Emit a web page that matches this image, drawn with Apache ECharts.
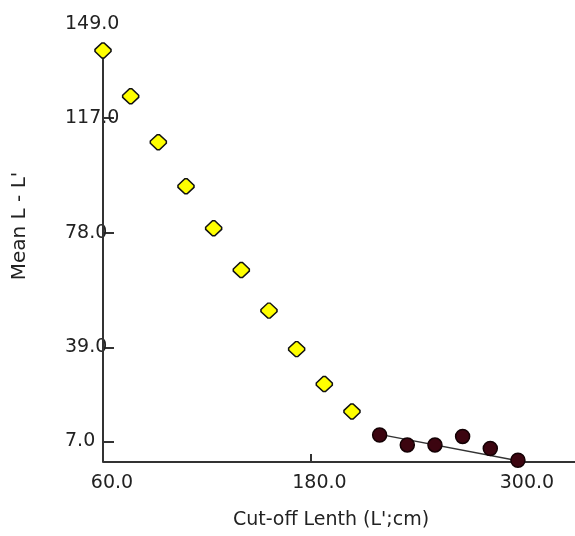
<!DOCTYPE html>
<html>
<head>
<meta charset="utf-8">
<script src="https://cdn.jsdelivr.net/npm/echarts@6/dist/echarts.min.js"></script>
<style>
  html, body { margin: 0; padding: 0; background: #fff; }
  #chart { width: 575px; height: 536px; }
</style>
</head>
<body>
<div id="chart"></div>
<script>
// values
var yellowX = [60, 76, 92, 108, 124, 140, 156, 172, 188, 204];
var yellowY = [140.0, 124.4, 108.8, 93.8, 79.5, 65.3, 51.5, 38.4, 26.5, 17.2];
var darkX = [220, 236, 252, 268, 284, 300];
var darkY = [9.2, 5.8, 5.8, 8.7, 4.6, 0.6];
// fitted line through the dark points (end points)
var fitX = [220, 300];
var fitY = [9.4, 0.4];
var yTicks = [7, 39, 78, 117];
var yLabels = [7, 39, 78, 117, 149];
var xTicks = [180];
var xLabels = [60, 180, 300];

function pairs(xs, ys) {
    var out = [];
    for (var i = 0; i < xs.length; i++) out.push([xs[i], ys[i]]);
    return out;
}

var font = 'DejaVu Sans';
var ink = '#222';
var axisInk = '#333';

var myChart = echarts.init(document.getElementById('chart'));
var option = {
    animation: false,
    grid: { left: 103, right: 0, top: 24, bottom: 74, outerBoundsMode: 'none' },
    xAxis: {
        type: 'value',
        min: 60,
        max: 333,
        name: "Cut-off Lenth (L';cm)",
        nameLocation: 'middle',
        nameGap: 49,
        nameTextStyle: { fontFamily: font, fontSize: 19, color: ink, padding: [0, 16, 0, 0] },
        splitLine: { show: false },
        axisLine: { show: true, lineStyle: { color: axisInk, width: 2 } },
        axisTick: { show: true, inside: true, length: 8, customValues: xTicks, lineStyle: { color: axisInk, width: 2 } },
        axisLabel: {
            customValues: xLabels,
            margin: 12,
            padding: [0, 0, 0, 18],
            fontFamily: font, fontSize: 19, color: ink,
            formatter: function (v) { return v.toFixed(1); }
        }
    },
    yAxis: {
        type: 'value',
        min: 0,
        max: 149,
        name: 'Mean L - L\'',
        nameLocation: 'middle',
        nameGap: 73,
        nameTextStyle: { fontFamily: font, fontSize: 20, color: ink, padding: [0, 0, 0, 34] },
        splitLine: { show: false },
        axisLine: { show: false },
        axisTick: { show: true, inside: true, length: 11, customValues: yTicks, lineStyle: { color: axisInk, width: 2 } },
        axisLabel: {
            customValues: yLabels,
            align: 'left',
            margin: 38,
            padding: [0, 0, 12, 0],
            fontFamily: font, fontSize: 19, color: ink,
            formatter: function (v) { return v.toFixed(1); }
        }
    },
    series: [
        {
            // vertical axis line, drawn up to the first point
            type: 'line',
            data: [[60, 0], [60, yellowY[0]]],
            symbol: 'none',
            lineStyle: { color: axisInk, width: 2 },
            z: 1
        },
        {
            type: 'line',
            data: pairs(fitX, fitY),
            symbol: 'none',
            lineStyle: { color: '#333', width: 1.5 },
            z: 2
        },
        {
            type: 'scatter',
            data: pairs(yellowX, yellowY),
            symbol: 'path://M6,0L8,0L14,6L14,8L8,14L6,14L0,8L0,6Z',
            symbolSize: [16, 15],
            itemStyle: { color: '#ffff00', borderColor: '#111', borderWidth: 1.5, opacity: 1 },
            z: 3
        },
        {
            type: 'scatter',
            data: pairs(darkX, darkY),
            symbol: 'circle',
            symbolSize: 14,
            itemStyle: { color: '#3c0510', borderColor: '#140004', borderWidth: 1.5, opacity: 1 },
            z: 3
        }
    ]
};
myChart.setOption(option);
</script>
</body>
</html>
